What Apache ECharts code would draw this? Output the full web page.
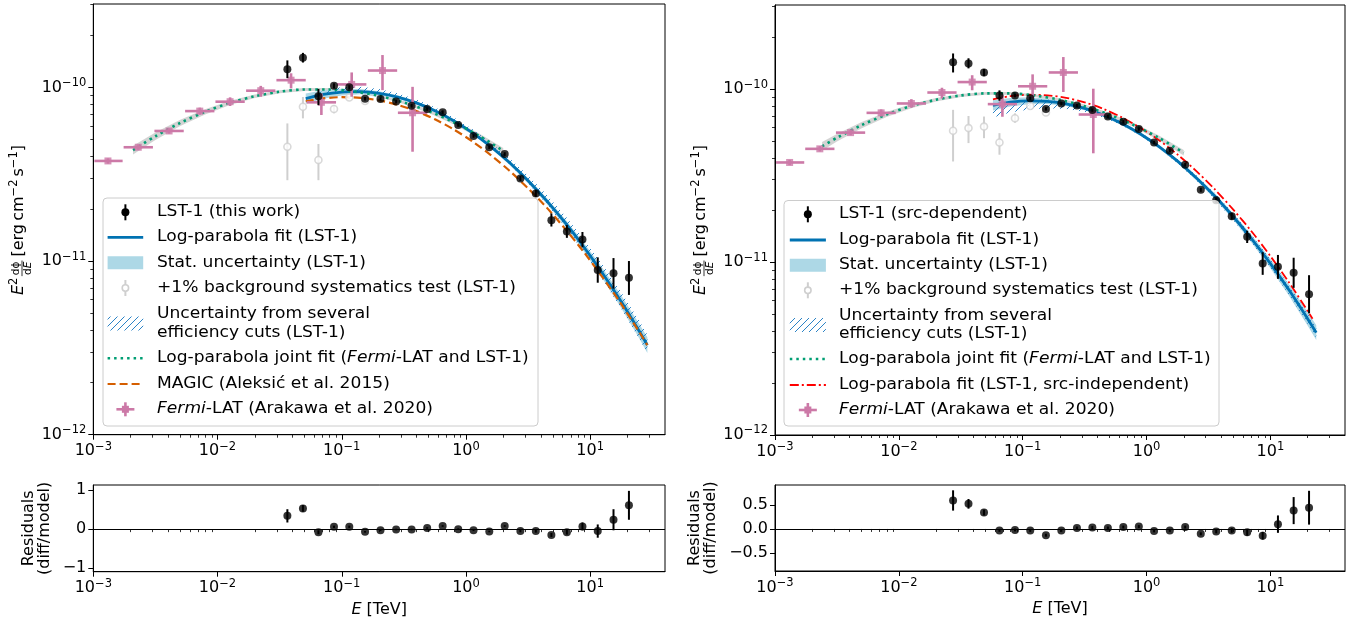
<!DOCTYPE html>
<html>
<head>
<meta charset="utf-8">
<script src="https://cdn.jsdelivr.net/npm/echarts@6/dist/echarts.min.js"></script>
<style>
html, body { margin: 0; padding: 0; background: #fff; }
#chart { width: 1363px; height: 625px; }
</style>
</head>
<body>
<div id="chart"></div>
<script>
// ---------------- Data (energies in TeV, fluxes E^2 dphi/dE in erg cm^-2 s^-1) ----------------

// Tick values
const xTickValues = [1e-3, 1e-2, 1e-1, 1, 10];
const yTickValues = [1e-12, 1e-11, 1e-10];
const resLeftTicks = [-1, 0, 1];
const resRightTicks = [-0.5, 0, 0.5];

// LST-1 (this work) -- left panel
const lstLeftEnergy = [0.0365, 0.0487, 0.0649, 0.0866, 0.115, 0.154, 0.205, 0.274, 0.365, 0.487, 0.649, 0.866,
  1.15, 1.54, 2.05, 2.74, 3.65, 4.87, 6.49, 8.66, 11.5, 15.4, 20.5];
const lstLeftFlux = [1.27e-10, 1.48e-10, 8.9e-11, 1.02e-10, 1.0e-10, 8.6e-11, 8.56e-11, 8.3e-11, 7.84e-11, 7.5e-11, 7.2e-11, 6.07e-11,
  5.25e-11, 4.52e-11, 4.13e-11, 2.99e-11, 2.45e-11, 1.72e-11, 1.48e-11, 1.33e-11, 8.87e-12, 8.5e-12, 8.0e-12];
const lstLeftLow = [1.13e-10, 1.39e-10, 7.9e-11, 9.85e-11, 9.73e-11, 8.4e-11, 8.37e-11, 8.11e-11, 7.66e-11, 7.33e-11, 7.04e-11, 5.93e-11,
  5.13e-11, 4.42e-11, 4.03e-11, 2.89e-11, 2.34e-11, 1.58e-11, 1.36e-11, 1.2e-11, 7.5e-12, 6.94e-12, 6.38e-12];
const lstLeftHigh = [1.43e-10, 1.58e-10, 9.8e-11, 1.056e-10, 1.028e-10, 8.8e-11, 8.76e-11, 8.49e-11, 8.02e-11, 7.67e-11, 7.37e-11, 6.21e-11,
  5.37e-11, 4.63e-11, 4.23e-11, 3.09e-11, 2.57e-11, 1.88e-11, 1.61e-11, 1.47e-11, 1.05e-11, 1.04e-11, 1.0e-11];
const lstLeftResidual = [0.34, 0.53, -0.08, 0.06, 0.06, -0.07, -0.03, -0.01, -0.01, 0.03, 0.08, 0.0,
  -0.03, -0.06, 0.08, -0.05, -0.05, -0.15, -0.08, 0.07, -0.05, 0.24, 0.61];
const lstLeftResidualErr = [0.17, 0.085, 0.05, 0.03, 0.03, 0.02, 0.02, 0.02, 0.02, 0.02, 0.02, 0.02,
  0.02, 0.02, 0.02, 0.03, 0.04, 0.05, 0.06, 0.1, 0.17, 0.27, 0.37];

// +1% background systematics test -- left panel
const bkgLeftEnergy = [0.0365, 0.0487, 0.0649, 0.0866, 0.115, 0.154];
const bkgLeftFlux = [4.55e-11, 7.74e-11, 3.82e-11, 7.5e-11, 8.75e-11, 8.34e-11];
const bkgLeftLow = [2.92e-11, 6.63e-11, 2.92e-11, 7.09e-11, 8.55e-11, 8.15e-11];
const bkgLeftHigh = [6.2e-11, 8.8e-11, 4.72e-11, 7.9e-11, 8.95e-11, 8.53e-11];

// LST-1 (src-dependent) -- right panel
const lstRightEnergy = [0.0274, 0.0365, 0.0487, 0.0649, 0.0866, 0.115, 0.154, 0.205, 0.274, 0.365, 0.487, 0.649,
  0.866, 1.15, 1.54, 2.05, 2.74, 3.65, 4.87, 6.49, 8.66, 11.5, 15.4, 20.5];
const lstRightFlux = [1.43e-10, 1.41e-10, 1.25e-10, 9.19e-11, 9.19e-11, 8.87e-11, 7.69e-11, 8.26e-11, 8.04e-11, 7.57e-11, 6.95e-11, 6.48e-11,
  5.88e-11, 4.92e-11, 4.41e-11, 3.66e-11, 2.62e-11, 2.28e-11, 1.84e-11, 1.40e-11, 9.83e-12, 9.4e-12, 8.69e-12, 6.52e-12];
const lstRightLow = [1.25e-10, 1.32e-10, 1.19e-10, 8.58e-11, 8.98e-11, 8.67e-11, 7.52e-11, 8.07e-11, 7.86e-11, 7.4e-11, 6.79e-11, 6.33e-11,
  5.75e-11, 4.81e-11, 4.31e-11, 3.58e-11, 2.55e-11, 2.2e-11, 1.76e-11, 1.29e-11, 8.44e-12, 8.0e-12, 7.1e-12, 5.05e-12];
const lstRightHigh = [1.61e-10, 1.51e-10, 1.31e-10, 9.85e-11, 9.4e-11, 9.07e-11, 7.87e-11, 8.45e-11, 8.22e-11, 7.74e-11, 7.11e-11, 6.63e-11,
  6.01e-11, 5.03e-11, 4.51e-11, 3.74e-11, 2.69e-11, 2.36e-11, 1.93e-11, 1.52e-11, 1.14e-11, 1.1e-11, 1.06e-11, 8.4e-12];
const lstRightResidual = [0.59, 0.52, 0.34, -0.03, -0.02, -0.03, -0.13, -0.03, 0.02, 0.03, 0.02, 0.04,
  0.05, -0.04, -0.03, 0.04, -0.10, -0.05, -0.03, -0.07, -0.14, 0.10, 0.38, 0.44];
const lstRightResidualErr = [0.21, 0.1, 0.06, 0.03, 0.03, 0.03, 0.03, 0.03, 0.03, 0.03, 0.03, 0.03,
  0.03, 0.03, 0.03, 0.03, 0.03, 0.04, 0.05, 0.07, 0.08, 0.18, 0.28, 0.35];

// +1% background systematics test -- right panel
const bkgRightEnergy = [0.0274, 0.0365, 0.0487, 0.0649, 0.0866, 0.115, 0.154];
const bkgRightFlux = [5.75e-11, 5.96e-11, 6.08e-11, 4.92e-11, 6.8e-11, 8.0e-11, 7.33e-11];
const bkgRightLow = [3.82e-11, 4.88e-11, 5.21e-11, 4.18e-11, 6.4e-11, 7.8e-11, 7.15e-11];
const bkgRightHigh = [7.6e-11, 7.0e-11, 6.95e-11, 5.57e-11, 7.25e-11, 8.2e-11, 7.5e-11];

// Fermi-LAT (Arakawa et al. 2020), both panels
const fermiEnergy = [1.312e-3, 2.301e-3, 4.074e-3, 7.194e-3, 1.262e-2, 2.228e-2, 3.908e-2, 6.855e-2, 0.1202, 0.2128, 0.3715];
const fermiEnergyLow = [1.02e-3, 1.754e-3, 3.105e-3, 5.483e-3, 9.62e-3, 1.698e-2, 2.979e-2, 5.224e-2, 9.16e-2, 0.1622, 0.2831];
const fermiEnergyHigh = [1.722e-3, 3.02e-3, 5.346e-3, 9.44e-3, 1.656e-2, 2.924e-2, 5.129e-2, 8.995e-2, 0.1578, 0.2793, 0.4875];
const fermiFlux = [3.77e-11, 4.52e-11, 5.61e-11, 7.30e-11, 8.27e-11, 9.57e-11, 1.10e-10, 8.2e-11, 1.04e-10, 1.25e-10, 7.14e-11];
const fermiFluxLow = [3.64e-11, 4.37e-11, 5.42e-11, 6.97e-11, 7.81e-11, 8.83e-11, 9.86e-11, 6.93e-11, 8.83e-11, 9.64e-11, 4.26e-11];
const fermiFluxHigh = [3.90e-11, 4.68e-11, 5.80e-11, 7.64e-11, 8.76e-11, 1.02e-10, 1.205e-10, 9.23e-11, 1.219e-10, 1.535e-10, 1.007e-10];

// Log-parabola fit (LST-1), left panel, with band half-widths in dex
const fitLeftEnergy = [0.0513, 0.0708, 0.1, 0.1413, 0.1995, 0.2818, 0.3981, 0.5623, 0.7943, 1.122,
  1.585, 2.239, 3.162, 4.467, 6.31, 8.913, 12.59, 17.78, 25.12, 28.84];
const fitLeftFlux = [8.61e-11, 9.10e-11, 9.39e-11, 9.44e-11, 9.23e-11, 8.79e-11, 8.14e-11, 7.33e-11, 6.43e-11, 5.49e-11,
  4.56e-11, 3.69e-11, 2.90e-11, 2.22e-11, 1.656e-11, 1.20e-11, 8.47e-12, 5.82e-12, 3.89e-12, 3.28e-12];
const statLeftDex = [0.03, 0.025, 0.02, 0.015, 0.012, 0.01, 0.01, 0.01, 0.01, 0.01,
  0.01, 0.012, 0.014, 0.016, 0.02, 0.024, 0.03, 0.036, 0.042, 0.045];
const effLeftUpDex = [0.0, 0.02, 0.03, 0.028, 0.025, 0.022, 0.02, 0.02, 0.02, 0.02,
  0.022, 0.025, 0.03, 0.035, 0.04, 0.045, 0.05, 0.055, 0.06, 0.06];
const effLeftDownDex = [0, 0, 0, 0, 0, 0, 0, 0, 0, 0,
  0.005, 0.01, 0.015, 0.02, 0.025, 0.03, 0.035, 0.04, 0.045, 0.045];

// MAGIC (Aleksic et al. 2015), left panel
const magicEnergy = [0.0513, 0.0708, 0.1, 0.1413, 0.1995, 0.2818, 0.3981, 0.5623, 0.7943, 1.122,
  1.585, 2.239, 3.162, 4.467, 6.31, 8.913, 12.59, 17.78, 25.12, 28.84];
const magicFlux = [8.32e-11, 8.64e-11, 8.78e-11, 8.70e-11, 8.41e-11, 7.93e-11, 7.30e-11, 6.55e-11, 5.73e-11, 4.89e-11,
  4.07e-11, 3.31e-11, 2.62e-11, 2.03e-11, 1.527e-11, 1.123e-11, 8.05e-12, 5.64e-12, 3.85e-12, 3.28e-12];

// Joint fit (Fermi-LAT and LST-1)
const jointLeftEnergy = [2.089e-3, 3.162e-3, 5.012e-3, 7.943e-3, 0.01259, 0.01995, 0.03162, 0.05012,
  0.07943, 0.1259, 0.1995, 0.3162, 0.5012, 0.7943, 1.259, 1.995];
const jointLeftFlux = [4.35e-11, 5.23e-11, 6.24e-11, 7.23e-11, 8.14e-11, 8.89e-11, 9.44e-11, 9.72e-11,
  9.73e-11, 9.46e-11, 8.93e-11, 8.18e-11, 7.29e-11, 6.30e-11, 5.29e-11, 4.31e-11];
const jointRightEnergy = [2.399e-3, 3.162e-3, 5.012e-3, 7.943e-3, 0.01259, 0.01995, 0.03162, 0.05012,
  0.07943, 0.1259, 0.1995, 0.3162, 0.5012, 0.7943, 1.259, 1.995];
const jointRightFlux = [4.67e-11, 5.24e-11, 6.20e-11, 7.14e-11, 7.99e-11, 8.69e-11, 9.20e-11, 9.46e-11,
  9.46e-11, 9.19e-11, 8.69e-11, 7.98e-11, 7.13e-11, 6.19e-11, 5.23e-11, 4.29e-11];
const jointDex = [0.025, 0.022, 0.018, 0.015, 0.012, 0.01, 0.009, 0.008,
  0.008, 0.008, 0.008, 0.009, 0.01, 0.012, 0.014, 0.016];

// Log-parabola fit (LST-1), right panel
const fitRightEnergy = [0.0575, 0.0794, 0.1122, 0.1585, 0.2239, 0.3162, 0.4467, 0.631, 0.8913, 1.259,
  1.778, 2.512, 3.548, 5.012, 7.079, 10, 14.13, 19.95, 23.44];
const fitRightFlux = [8.06e-11, 8.41e-11, 8.57e-11, 8.51e-11, 8.23e-11, 7.74e-11, 7.10e-11, 6.34e-11, 5.51e-11, 4.66e-11,
  3.84e-11, 3.08e-11, 2.41e-11, 1.83e-11, 1.358e-11, 9.80e-12, 6.89e-12, 4.71e-12, 3.91e-12];
const statRightDex = [0.03, 0.025, 0.02, 0.015, 0.012, 0.01, 0.01, 0.01, 0.01, 0.01,
  0.011, 0.013, 0.015, 0.018, 0.022, 0.027, 0.033, 0.04, 0.043];
const effRightUpDex = [0.005, 0.005, 0.008, 0.01, 0.01, 0.01, 0.01, 0.01, 0.01, 0.01,
  0.012, 0.015, 0.018, 0.02, 0.022, 0.025, 0.028, 0.03, 0.03];
const effRightDownDex = [0.07, 0.06, 0.05, 0.04, 0.03, 0.02, 0.015, 0.01, 0.01, 0.01,
  0.012, 0.015, 0.018, 0.02, 0.022, 0.025, 0.028, 0.03, 0.03];

// Log-parabola fit (LST-1, src-independent), right panel
const srcIndepEnergy = [0.0575, 0.0794, 0.1122, 0.1585, 0.2239, 0.3162, 0.4467, 0.631, 0.8913, 1.259,
  1.778, 2.512, 3.548, 5.012, 7.079, 10, 14.13, 19.95, 21.88];
const srcIndepFlux = [8.74e-11, 9.12e-11, 9.29e-11, 9.22e-11, 8.92e-11, 8.39e-11, 7.70e-11, 6.87e-11, 5.98e-11, 5.07e-11,
  4.19e-11, 3.37e-11, 2.64e-11, 2.01e-11, 1.497e-11, 1.082e-11, 7.63e-12, 5.22e-12, 4.70e-12];

// ---------------- Styling ----------------
const FONT = '"DejaVu Sans", sans-serif';
const C_BLUE = '#0072b2';
const C_ORANGE = '#d55e00';
const C_GREEN = '#009e73';
const C_PINK = '#cc79a7';
const C_RED = '#ff0000';
const C_GREY = '#cfcfcf';
const C_STAT = '#add8e6';
const C_JOINT = 'rgba(128,128,128,0.35)';
const C_HATCH = '#2b83c6';

function hatchCanvas(color) {
  const c = document.createElement('canvas');
  c.width = 7; c.height = 7;
  const g = c.getContext('2d');
  g.strokeStyle = color;
  g.lineWidth = 1;
  g.beginPath();
  g.moveTo(-1, 8); g.lineTo(8, -1);
  g.moveTo(-4.5, 4.5); g.lineTo(4.5, -4.5);
  g.moveTo(2.5, 11.5); g.lineTo(11.5, 2.5);
  g.stroke();
  return c;
}
const hatchFill = { image: hatchCanvas(C_HATCH), repeat: 'repeat' };

function pow10Label(v) {
  const e = Math.round(Math.log10(v));
  return '10{e|' + (e < 0 ? '\u2212' + (-e) : String(e)) + '}';
}
const supRich = { e: { fontSize: 11.5, fontFamily: FONT, color: '#000', padding: [0, 0, 9, 0] } };

function minorLogTicks(lo, hi) {
  const out = [];
  for (let p = Math.floor(Math.log10(lo)); p <= Math.ceil(Math.log10(hi)); p++) {
    for (let m = 2; m <= 9; m++) {
      const v = m * Math.pow(10, p);
      if (v > lo * 1.0001 && v < hi * 0.9999) out.push(v);
    }
  }
  return out;
}

const X_MIN = 1e-3, X_MAX = 40;
const LEFT_Y_MAX = 3.02e-10, RIGHT_Y_MAX = 3.07e-10;

function logXAxis(grid, nameText) {
  const ax = {
    type: 'log', logBase: 10, gridIndex: grid, min: X_MIN, max: X_MAX, position: 'bottom',
    axisLine: { show: true, onZero: false, lineStyle: { color: '#000', width: 1 } },
    axisTick: { show: true, length: 5, customValues: xTickValues, lineStyle: { color: '#000', width: 1 } },
    axisLabel: { show: true, customValues: xTickValues, formatter: pow10Label, fontSize: 16, fontFamily: FONT,
      color: '#000', margin: 6, rich: supRich },
    splitLine: { show: false }, minorTick: { show: false }, minorSplitLine: { show: false }
  };
  if (nameText) {
    ax.name = nameText;
    ax.nameLocation = 'middle';
    ax.nameGap = 30;
    ax.nameTextStyle = { fontSize: 16, fontFamily: FONT, color: '#000',
      rich: { i: { fontSize: 16, fontFamily: FONT, fontStyle: 'italic', color: '#000' } } };
  }
  return ax;
}
function minorXAxis(grid) {
  return {
    type: 'log', logBase: 10, gridIndex: grid, min: X_MIN, max: X_MAX, position: 'bottom',
    axisLine: { show: false },
    axisTick: { show: true, length: 3, customValues: minorLogTicks(X_MIN, X_MAX), lineStyle: { color: '#000', width: 0.8 } },
    axisLabel: { show: false }, splitLine: { show: false }
  };
}
function logYAxis(grid, max) {
  return {
    type: 'log', logBase: 10, gridIndex: grid, min: 1e-12, max: max, position: 'left',
    axisLine: { show: true, onZero: false, lineStyle: { color: '#000', width: 1 } },
    axisTick: { show: true, length: 5, customValues: yTickValues, lineStyle: { color: '#000', width: 1 } },
    axisLabel: { show: true, customValues: yTickValues, formatter: pow10Label, fontSize: 16, fontFamily: FONT,
      color: '#000', margin: 7, rich: supRich },
    splitLine: { show: false }
  };
}
function minorYAxis(grid, max) {
  return {
    type: 'log', logBase: 10, gridIndex: grid, min: 1e-12, max: max, position: 'left',
    axisLine: { show: false },
    axisTick: { show: true, length: 3, customValues: minorLogTicks(1e-12, max), lineStyle: { color: '#000', width: 0.8 } },
    axisLabel: { show: false }, splitLine: { show: false }
  };
}
function resYAxis(grid, min, max, ticks, digits, gap) {
  return {
    type: 'value', gridIndex: grid, min: min, max: max, position: 'left',
    axisLine: { show: true, onZero: false, lineStyle: { color: '#000', width: 1 } },
    axisTick: { show: true, length: 5, customValues: ticks, lineStyle: { color: '#000', width: 1 } },
    axisLabel: { show: true, customValues: ticks, fontSize: 16, fontFamily: FONT, color: '#000', margin: 7,
      formatter: v => (v < 0 ? '\u2212' : '') + Math.abs(v).toFixed(digits) },
    splitLine: { show: false },
    name: 'Residuals\n(diff/model)', nameLocation: 'middle', nameRotate: 90, nameGap: gap,
    nameTextStyle: { fontSize: 16, fontFamily: FONT, color: '#000', lineHeight: 16 }
  };
}

// ---------------- Series builders ----------------
function bandSeries(xi, yi, E, F, upDex, downDex, fill, z) {
  return {
    type: 'custom', xAxisIndex: xi, yAxisIndex: yi, z: z, silent: true, animation: false,
    data: E.map((e, i) => [e, F[i]]),
    renderItem(params, api) {
      if (params.dataIndex !== 0) return null;
      const top = E.map((e, i) => api.coord([e, F[i] * Math.pow(10, upDex[i])]));
      const bot = E.map((e, i) => api.coord([e, F[i] / Math.pow(10, downDex[i])])).reverse();
      return { type: 'polygon', shape: { points: top.concat(bot) }, style: { fill: fill, stroke: null } };
    }
  };
}
function lineSeries(xi, yi, E, F, color, width, dash, z) {
  return {
    type: 'line', xAxisIndex: xi, yAxisIndex: yi, z: z, silent: true, animation: false,
    data: E.map((e, i) => [e, F[i]]), showSymbol: false, symbol: 'none', smooth: 0.3,
    lineStyle: { color: color, width: width, type: dash || 'solid', cap: 'butt' }
  };
}
function yErrSeries(xi, yi, X, lo, hi, color, width, z) {
  return {
    type: 'custom', xAxisIndex: xi, yAxisIndex: yi, z: z, silent: true, animation: false,
    data: X.map((x, i) => [x, lo[i], hi[i]]),
    renderItem(params, api) {
      const a = api.coord([api.value(0), api.value(1)]);
      const b = api.coord([api.value(0), api.value(2)]);
      return { type: 'line', shape: { x1: a[0], y1: a[1], x2: b[0], y2: b[1] }, style: { stroke: color, lineWidth: width } };
    }
  };
}
function fermiErrSeries(xi, yi, z) {
  return {
    type: 'custom', xAxisIndex: xi, yAxisIndex: yi, z: z, silent: true, animation: false,
    data: fermiEnergy.map((e, i) => [e, fermiFlux[i], fermiEnergyLow[i], fermiEnergyHigh[i], fermiFluxLow[i], fermiFluxHigh[i]]),
    renderItem(params, api) {
      const l = api.coord([api.value(2), api.value(1)]);
      const r = api.coord([api.value(3), api.value(1)]);
      const b = api.coord([api.value(0), api.value(4)]);
      const t = api.coord([api.value(0), api.value(5)]);
      return {
        type: 'group', children: [
          { type: 'line', shape: { x1: l[0], y1: l[1], x2: r[0], y2: r[1] }, style: { stroke: C_PINK, lineWidth: 2.6 } },
          { type: 'line', shape: { x1: b[0], y1: b[1], x2: t[0], y2: t[1] }, style: { stroke: C_PINK, lineWidth: 2.6 } }
        ]
      };
    }
  };
}
function scatterSeries(xi, yi, X, Y, opts, z) {
  return Object.assign({
    type: 'scatter', xAxisIndex: xi, yAxisIndex: yi, z: z, silent: true, animation: false,
    data: X.map((x, i) => [x, Y[i]])
  }, opts);
}

const lstMarker = { symbol: 'circle', symbolSize: 8, itemStyle: { color: '#000' } };
const bkgMarker = { symbol: 'circle', symbolSize: 7, itemStyle: { color: '#fff', borderColor: C_GREY, borderWidth: 1.6 } };
const fermiMarker = { symbol: 'rect', symbolSize: 7, itemStyle: { color: C_PINK } };

function residualSeries(xi, yi, E, R, Rerr) {
  const lo = R.map((r, i) => r - Rerr[i]);
  const hi = R.map((r, i) => r + Rerr[i]);
  return [
    yErrSeries(xi, yi, E, lo, hi, '#000', 2, 5),
    Object.assign(scatterSeries(xi, yi, E, R, lstMarker, 6), {
      markLine: { silent: true, symbol: 'none', animation: false, label: { show: false },
        lineStyle: { color: '#000', width: 1, type: 'solid' }, data: [{ yAxis: 0 }] }
    })
  ];
}

// Axis indices: x 0 L-main, 1 L-res, 2 R-main, 3 R-res, 4..7 minor; y 0 L-main, 1 L-res, 2 R-main, 3 R-res, 4/5 minor
const series = [
  // left main
  bandSeries(0, 0, jointLeftEnergy, jointLeftFlux, jointDex, jointDex, C_JOINT, 1),
  bandSeries(0, 0, fitLeftEnergy, fitLeftFlux, statLeftDex, statLeftDex, C_STAT, 1),
  bandSeries(0, 0, fitLeftEnergy, fitLeftFlux, effLeftUpDex, effLeftDownDex, hatchFill, 2),
  lineSeries(0, 0, fitLeftEnergy, fitLeftFlux, C_BLUE, 2.8, 'solid', 3),
  lineSeries(0, 0, magicEnergy, magicFlux, C_ORANGE, 2.2, [8, 4], 3),
  lineSeries(0, 0, jointLeftEnergy, jointLeftFlux, C_GREEN, 2.6, [2.5, 4], 3),
  yErrSeries(0, 0, bkgLeftEnergy, bkgLeftLow, bkgLeftHigh, C_GREY, 2, 4),
  scatterSeries(0, 0, bkgLeftEnergy, bkgLeftFlux, bkgMarker, 4),
  fermiErrSeries(0, 0, 5),
  scatterSeries(0, 0, fermiEnergy, fermiFlux, fermiMarker, 5),
  yErrSeries(0, 0, lstLeftEnergy, lstLeftLow, lstLeftHigh, '#000', 2, 6),
  scatterSeries(0, 0, lstLeftEnergy, lstLeftFlux, lstMarker, 6),
  // right main
  bandSeries(2, 2, jointRightEnergy, jointRightFlux, jointDex, jointDex, C_JOINT, 1),
  bandSeries(2, 2, fitRightEnergy, fitRightFlux, statRightDex, statRightDex, C_STAT, 1),
  bandSeries(2, 2, fitRightEnergy, fitRightFlux, effRightUpDex, effRightDownDex, hatchFill, 2),
  lineSeries(2, 2, fitRightEnergy, fitRightFlux, C_BLUE, 2.8, 'solid', 3),
  lineSeries(2, 2, srcIndepEnergy, srcIndepFlux, C_RED, 1.8, [9, 3, 2, 3], 3),
  lineSeries(2, 2, jointRightEnergy, jointRightFlux, C_GREEN, 2.6, [2.5, 4], 3),
  yErrSeries(2, 2, bkgRightEnergy, bkgRightLow, bkgRightHigh, C_GREY, 2, 4),
  scatterSeries(2, 2, bkgRightEnergy, bkgRightFlux, bkgMarker, 4),
  fermiErrSeries(2, 2, 5),
  scatterSeries(2, 2, fermiEnergy, fermiFlux, fermiMarker, 5),
  yErrSeries(2, 2, lstRightEnergy, lstRightLow, lstRightHigh, '#000', 2, 6),
  scatterSeries(2, 2, lstRightEnergy, lstRightFlux, lstMarker, 6)
].concat(
  residualSeries(1, 1, lstLeftEnergy, lstLeftResidual, lstLeftResidualErr),
  residualSeries(3, 3, lstRightEnergy, lstRightResidual, lstRightResidualErr)
);

// ---------------- Legends and rotated flux axis titles (graphic) ----------------
const TXT = { fontSize: 15, fontFamily: FONT, fill: '#000', verticalAlign: 'middle', align: 'left',
  rich: { it: { fontSize: 15, fontFamily: FONT, fontStyle: 'italic', fill: '#000' } } };
const TEXT_STRETCH = 1.14;

function legendGraphic(box, hx0, hx1, tx, rows) {
  const hc = (hx0 + hx1) / 2;
  const els = [{ type: 'rect', z: 50, shape: { x: box[0], y: box[1], width: box[2], height: box[3], r: 4 },
    style: { fill: 'rgba(255,255,255,0.8)', stroke: '#cccccc', lineWidth: 1 } }];
  rows.forEach(row => {
    const y = row.y;
    switch (row.kind) {
      case 'lst':
        els.push({ type: 'line', z: 51, shape: { x1: hc, y1: y - 8, x2: hc, y2: y + 8 }, style: { stroke: '#000', lineWidth: 2 } });
        els.push({ type: 'circle', z: 52, shape: { cx: hc, cy: y, r: 4 }, style: { fill: '#000' } });
        break;
      case 'line':
        els.push({ type: 'line', z: 51, shape: { x1: hx0, y1: y, x2: hx1, y2: y },
          style: { stroke: row.color, lineWidth: row.width, lineDash: row.dash || null } });
        break;
      case 'patch':
        els.push({ type: 'rect', z: 51, shape: { x: hx0, y: y - 6.5, width: hx1 - hx0, height: 13 }, style: { fill: row.fill } });
        break;
      case 'hatch':
        els.push({ type: 'rect', z: 51, shape: { x: hx0, y: y - 7, width: hx1 - hx0, height: 14 }, style: { fill: hatchFill } });
        break;
      case 'bkg':
        els.push({ type: 'line', z: 51, shape: { x1: hc, y1: y - 8, x2: hc, y2: y + 8 }, style: { stroke: C_GREY, lineWidth: 2 } });
        els.push({ type: 'circle', z: 52, shape: { cx: hc, cy: y, r: 3.2 }, style: { fill: '#fff', stroke: C_GREY, lineWidth: 1.6 } });
        break;
      case 'fermi':
        els.push({ type: 'line', z: 51, shape: { x1: hc - 9, y1: y, x2: hc + 9, y2: y }, style: { stroke: C_PINK, lineWidth: 2.6 } });
        els.push({ type: 'line', z: 51, shape: { x1: hc, y1: y - 7, x2: hc, y2: y + 7 }, style: { stroke: C_PINK, lineWidth: 2.6 } });
        els.push({ type: 'rect', z: 52, shape: { x: hc - 3.5, y: y - 3.5, width: 7, height: 7 }, style: { fill: C_PINK } });
        break;
    }
    row.texts.forEach(t => {
      els.push({ type: 'text', z: 52, x: tx, y: t.y, scaleX: TEXT_STRETCH,
        style: Object.assign({}, TXT, { text: t.text }) });
    });
  });
  return els;
}

const leftLegendRows = [
  { kind: 'lst', y: 212.3, texts: [{ y: 212.3, text: 'LST-1 (this work)' }] },
  { kind: 'line', y: 237.3, color: C_BLUE, width: 2.8, texts: [{ y: 237.3, text: 'Log-parabola fit (LST-1)' }] },
  { kind: 'patch', y: 262.7, fill: C_STAT, texts: [{ y: 262.7, text: 'Stat. uncertainty (LST-1)' }] },
  { kind: 'bkg', y: 288, texts: [{ y: 288, text: '+1% background systematics test (LST-1)' }] },
  { kind: 'hatch', y: 323.5, texts: [{ y: 314.3, text: 'Uncertainty from several' }, { y: 332.7, text: 'efficiency cuts (LST-1)' }] },
  { kind: 'line', y: 358.3, color: C_GREEN, width: 2.6, dash: [2.5, 4], texts: [{ y: 358.3, text: 'Log-parabola joint fit ({it|Fermi}-LAT and LST-1)' }] },
  { kind: 'line', y: 384, color: C_ORANGE, width: 2.2, dash: [8, 4], texts: [{ y: 384, text: 'MAGIC (Aleksi\u0107 et al. 2015)' }] },
  { kind: 'fermi', y: 409.3, texts: [{ y: 409.3, text: '{it|Fermi}-LAT (Arakawa et al. 2020)' }] }
];
const rightLegendRows = [
  { kind: 'lst', y: 214.3, texts: [{ y: 214.3, text: 'LST-1 (src-dependent)' }] },
  { kind: 'line', y: 240, color: C_BLUE, width: 2.8, texts: [{ y: 240, text: 'Log-parabola fit (LST-1)' }] },
  { kind: 'patch', y: 265.3, fill: C_STAT, texts: [{ y: 265.3, text: 'Stat. uncertainty (LST-1)' }] },
  { kind: 'bkg', y: 290.3, texts: [{ y: 290.3, text: '+1% background systematics test (LST-1)' }] },
  { kind: 'hatch', y: 325, texts: [{ y: 315.7, text: 'Uncertainty from several' }, { y: 334.3, text: 'efficiency cuts (LST-1)' }] },
  { kind: 'line', y: 359, color: C_GREEN, width: 2.6, dash: [2.5, 4], texts: [{ y: 359, text: 'Log-parabola joint fit ({it|Fermi}-LAT and LST-1)' }] },
  { kind: 'line', y: 385, color: C_RED, width: 1.8, dash: [9, 3, 2, 3], texts: [{ y: 385, text: 'Log-parabola fit (LST-1, src-independent)' }] },
  { kind: 'fermi', y: 410, texts: [{ y: 410, text: '{it|Fermi}-LAT (Arakawa et al. 2020)' }] }
];

// Flux axis title: E^2 (dphi/dE) [erg cm^-2 s^-1], rotated to read bottom-to-top
function fluxTitle(cx, cy) {
  const ctx = document.createElement('canvas').getContext('2d');
  const width = (t, size, italic) => {
    ctx.font = (italic ? 'italic ' : '') + size + 'px "DejaVu Sans"';
    return ctx.measureText(t).width;
  };
  const big = 16, sup = 11.5, frac = 10.5;
  const parts = [];
  let x = 0;
  const put = (t, size, base, italic) => {
    parts.push({ t, size, base, italic, x });
    x += width(t, size, italic);
  };
  put('E', big, 0, true);
  put('2', sup, -7, false);
  x += 1.5;
  const wNum = width('d\u03d5', frac, false);
  const wDen = width('d', frac, false) + width('E', frac, true);
  const wFrac = Math.max(wNum, wDen) + 2;
  const fx = x;
  parts.push({ t: 'd\u03d5', size: frac, base: -5.5, italic: false, x: fx + (wFrac - wNum) / 2 });
  parts.push({ t: 'd', size: frac, base: 6.5, italic: false, x: fx + (wFrac - wDen) / 2 });
  parts.push({ t: 'E', size: frac, base: 6.5, italic: true, x: fx + (wFrac - wDen) / 2 + width('d', frac, false) });
  x += wFrac + 4;
  put('[erg\u2009cm', big, 0, false);
  put('\u22122', sup, -7, false);
  x += 3;
  put('s', big, 0, false);
  put('\u22121', sup, -7, false);
  put(']', big, 0, false);
  const shift = -x / 2;
  const children = parts.map(p => ({
    type: 'text', x: p.x + shift, y: p.base,
    style: { text: p.t, fontSize: p.size, fontFamily: FONT, fontStyle: p.italic ? 'italic' : 'normal',
      fill: '#000', align: 'left', verticalAlign: 'bottom' }
  }));
  children.push({ type: 'line', shape: { x1: fx + shift, y1: -5, x2: fx + wFrac + shift, y2: -5 },
    style: { stroke: '#000', lineWidth: 0.8 } });
  return { type: 'group', x: cx, y: cy, rotation: Math.PI / 2, children: children, z: 20 };
}

const graphic = []
  .concat(legendGraphic([103, 198, 435, 228], 107.6, 143.2, 157, leftLegendRows))
  .concat(legendGraphic([784, 200.5, 435, 225.5], 789.8, 825.9, 839, rightLegendRows))
  .concat([fluxTitle(27, 220), fluxTitle(709, 220)]);

// ---------------- Chart ----------------
const chart = echarts.init(document.getElementById('chart'), null, { renderer: 'canvas' });
chart.setOption({
  animation: false,
  backgroundColor: '#ffffff',
  textStyle: { fontFamily: FONT },
  grid: [
    { left: 93.3, top: 4, width: 571.7, height: 430.7, show: true, borderColor: '#000', borderWidth: 1, containLabel: false, outerBoundsMode: 'none' },
    { left: 93.3, top: 485, width: 571.7, height: 86.7, show: true, borderColor: '#000', borderWidth: 1, containLabel: false, outerBoundsMode: 'none' },
    { left: 775, top: 5, width: 570, height: 430, show: true, borderColor: '#000', borderWidth: 1, containLabel: false, outerBoundsMode: 'none' },
    { left: 775, top: 485, width: 570, height: 86, show: true, borderColor: '#000', borderWidth: 1, containLabel: false, outerBoundsMode: 'none' }
  ],
  xAxis: [
    logXAxis(0), logXAxis(1, '{i|E} [TeV]'), logXAxis(2), logXAxis(3, '{i|E} [TeV]'),
    minorXAxis(0), minorXAxis(1), minorXAxis(2), minorXAxis(3)
  ],
  yAxis: [
    logYAxis(0, LEFT_Y_MAX),
    resYAxis(1, -1.09, 1.13, resLeftTicks, 0, 40),
    logYAxis(2, RIGHT_Y_MAX),
    resYAxis(3, -0.87, 0.91, resRightTicks, 1, 56),
    minorYAxis(0, LEFT_Y_MAX),
    minorYAxis(2, RIGHT_Y_MAX)
  ],
  series: series,
  graphic: graphic
});
</script>
</body>
</html>
